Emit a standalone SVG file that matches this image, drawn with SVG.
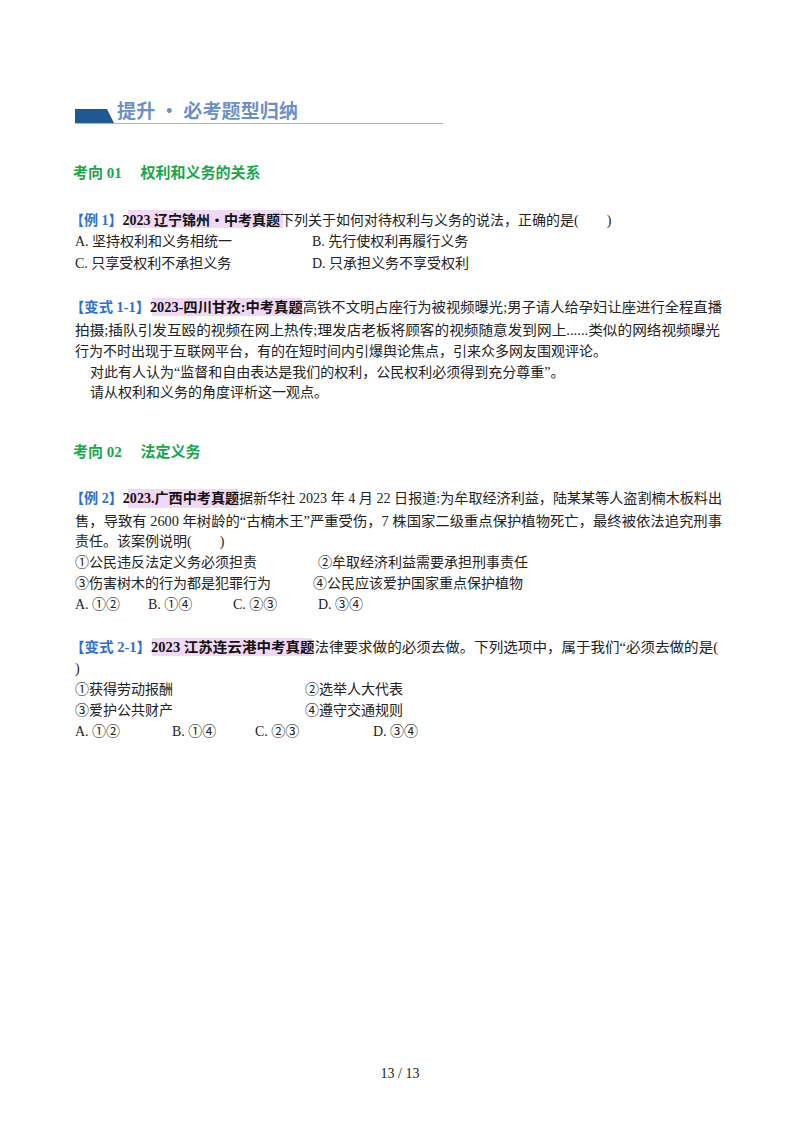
<svg xmlns="http://www.w3.org/2000/svg" width="800" height="1132" viewBox="0 0 800 1132">
<style>
text{font-family:"Liberation Serif","Noto Sans CJK SC",serif;font-size:14px;fill:#222}
.h{font-family:"Liberation Serif","Noto Sans CJK SC",sans-serif;font-weight:bold;font-size:15px;fill:#1aa64a}
.tag{fill:#2f6fd0;font-weight:bold}
.b{font-weight:bold;fill:#111}
.hl{fill:#f1d9f6}
</style>
<rect width="800" height="1132" fill="#fff"/>
<g id="title">
<polygon points="75,109 107,109 114,123 75,123" fill="#1d5a94"/>
<line x1="75" y1="123.5" x2="443" y2="123.5" stroke="#9cb7da" stroke-width="1"/>
<text x="117" y="118" textLength="181" style="font-family:'Noto Sans CJK SC',sans-serif;font-weight:bold;font-size:19px;fill:#6c8fc8">提升 · 必考题型归纳</text>
</g>
<text class="h" x="73" y="178">考向 01　 权利和义务的关系</text>
<g id="ex1">
<rect class="hl" x="128" y="210" width="155" height="18"/>
<text x="70" y="225"><tspan class="tag">【例 1】</tspan><tspan class="b">2023 辽宁锦州・中考真题</tspan>下列关于如何对待权利与义务的说法，正确的是(　　)</text>
<text x="75" y="246">A. 坚持权利和义务相统一</text>
<text x="312" y="246">B. 先行使权利再履行义务</text>
<text x="75" y="268">C. 只享受权利不承担义务</text>
<text x="312" y="268">D. 只承担义务不享受权利</text>
</g>
<g id="var11">
<rect class="hl" x="152" y="298" width="150" height="18"/>
<text x="70" y="312" textLength="652" lengthAdjust="spacingAndGlyphs"><tspan class="tag">【变式 1-1】</tspan><tspan class="b">2023-四川甘孜:中考真题</tspan>高铁不文明占座行为被视频曝光;男子请人给孕妇让座进行全程直播</text>
<text x="75" y="335" textLength="645" lengthAdjust="spacingAndGlyphs">拍摄;插队引发互殴的视频在网上热传;理发店老板将顾客的视频随意发到网上......类似的网络视频曝光</text>
<text x="75" y="356">行为不时出现于互联网平台，有的在短时间内引爆舆论焦点，引来众多网友围观评论。</text>
<text x="90" y="377">对此有人认为“监督和自由表达是我们的权利，公民权利必须得到充分尊重”。</text>
<text x="90" y="397">请从权利和义务的角度评析这一观点。</text>
</g>
<text class="h" x="73" y="457">考向 02　 法定义务</text>
<g id="ex2">
<rect class="hl" x="128" y="489" width="110" height="19"/>
<text x="70" y="503" textLength="652" lengthAdjust="spacingAndGlyphs"><tspan class="tag">【例 2】</tspan><tspan class="b">2023.广西中考真题</tspan>据新华社 2023 年 4 月 22 日报道:为牟取经济利益，陆某某等人盗割楠木板料出</text>
<text x="75" y="526" textLength="647" lengthAdjust="spacingAndGlyphs">售，导致有 2600 年树龄的“古楠木王”严重受伤，7 株国家二级重点保护植物死亡，最终被依法追究刑事</text>
<text x="75" y="546">责任。该案例说明(　　)</text>
<text x="75" y="567">①公民违反法定义务必须担责</text>
<text x="318" y="567">②牟取经济利益需要承担刑事责任</text>
<text x="75" y="588">③伤害树木的行为都是犯罪行为</text>
<text x="313" y="588">④公民应该爱护国家重点保护植物</text>
<text x="75" y="609">A. ①②</text>
<text x="148" y="609">B. ①④</text>
<text x="233" y="609">C. ②③</text>
<text x="318" y="609">D. ③④</text>
</g>
<g id="var21">
<rect class="hl" x="152" y="638" width="160" height="18"/>
<text x="70" y="652" textLength="648" lengthAdjust="spacingAndGlyphs"><tspan class="tag">【变式 2-1】</tspan><tspan class="b">2023 江苏连云港中考真题</tspan>法律要求做的必须去做。下列选项中，属于我们“必须去做的是(</text>
<text x="75" y="673">)</text>
<text x="75" y="694">①获得劳动报酬</text>
<text x="305" y="694">②选举人大代表</text>
<text x="75" y="715">③爱护公共财产</text>
<text x="305" y="715">④遵守交通规则</text>
<text x="75" y="736">A. ①②</text>
<text x="172" y="736">B. ①④</text>
<text x="255" y="736">C. ②③</text>
<text x="373" y="736">D. ③④</text>
</g>
<text x="400" y="1078" text-anchor="middle">13  /  13</text>
</svg>
